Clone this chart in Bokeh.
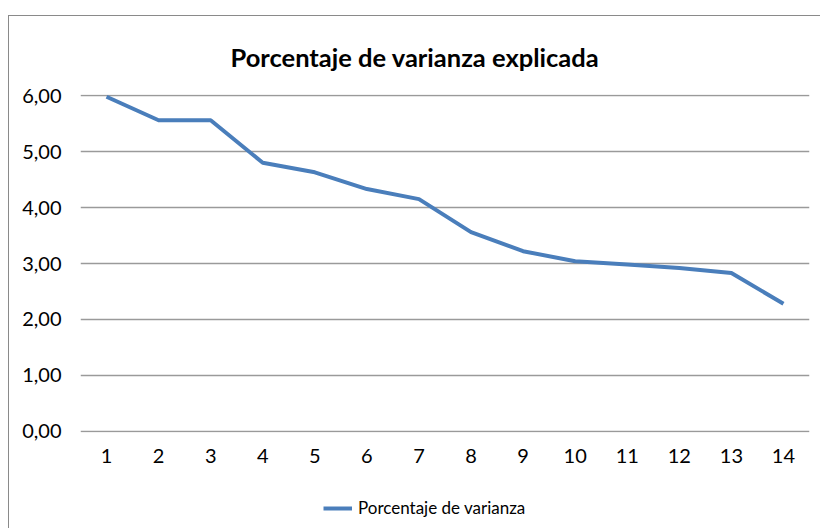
from bokeh.plotting import figure
from bokeh.layouts import column, row
from bokeh.models import (FactorRange, Range1d, CustomJSTickFormatter, FixedTicker,
                          Legend, LegendItem, ColumnDataSource, Spacer)
from bokeh.embed import file_html
from bokeh.resources import INLINE

categories = [str(i) for i in range(1, 15)]
values = [5.98, 5.56, 5.56, 4.80, 4.63, 4.33, 4.15, 3.56, 3.22, 3.04, 2.98, 2.92, 2.83, 2.28]
y_ticks = [0, 1, 2, 3, 4, 5, 6]
title_text = "Porcentaje de varianza explicada"
series_name = "Porcentaje de varianza"

FONT = "Lato"
GRID = "#9a9a9a"
LINE = "#4A7EBB"
BORDER = "1px solid #8a8a8a"

p = figure(
    x_range=FactorRange(factors=categories),
    y_range=Range1d(-0.02, 6.02),
    frame_width=728, frame_height=337,
    min_border_left=71, min_border_right=12,
    min_border_top=77, min_border_bottom=60,
    output_backend="svg", toolbar_location=None,
    background_fill_color="white", border_fill_color="white",
    title=title_text,
)
p.styles = {"border-top": BORDER, "border-left": BORDER}
p.outline_line_color = None

p.title.align = "left"
p.title.offset = 150
p.title.text_font = FONT
p.title.text_font_style = "bold"
p.title.text_font_size = "25.5px"
p.title.text_color = "black"
p.title.standoff = 46

src = ColumnDataSource(dict(x=categories, y=values))
p.line("x", "y", source=src, line_color=LINE, line_width=4, line_join="round")

# axes
p.yaxis.ticker = FixedTicker(ticks=y_ticks)
p.yaxis.formatter = CustomJSTickFormatter(code="return tick.toFixed(2).replace('.', ',');")
p.yaxis.axis_line_color = None
p.yaxis.major_tick_line_color = None
p.yaxis.minor_tick_line_color = None
p.yaxis.major_label_standoff = 13
p.yaxis.major_label_text_font = FONT
p.yaxis.major_label_text_font_size = "20px"
p.yaxis.major_label_text_color = "black"

p.xaxis.axis_line_color = None
p.xaxis.major_tick_line_color = None
p.xaxis.minor_tick_line_color = None
p.xaxis.major_label_standoff = 10
p.xaxis.major_label_text_font = FONT
p.xaxis.major_label_text_font_size = "20px"
p.xaxis.major_label_text_color = "black"

p.xgrid.grid_line_color = None
p.ygrid.grid_line_color = GRID
p.ygrid.grid_line_width = 1.5

# legend strip (separate small canvas sharing the chart border)
lg = figure(
    x_range=Range1d(0, 1), y_range=Range1d(0, 1),
    frame_width=812, frame_height=37,
    min_border_left=0, min_border_right=0, min_border_top=0, min_border_bottom=0,
    output_backend="svg", toolbar_location=None,
    background_fill_color="white", border_fill_color="white",
)
lg.styles = {"border-left": BORDER}
lg.outline_line_color = None
lg.xaxis.visible = False
lg.yaxis.visible = False
lg.xgrid.visible = False
lg.ygrid.visible = False
# proxy renderer for the legend swatch (its points lie outside this strip's view)
lr = lg.line(x=values, y=values, line_color=LINE, line_width=4)

legend = Legend(items=[LegendItem(label=series_name, renderers=[lr])],
                location=(314, 10), orientation="horizontal",
                glyph_width=29, glyph_height=20, label_standoff=6,
                padding=0, margin=0, border_line_color=None,
                background_fill_alpha=0,
                label_text_font=FONT, label_text_font_size="17px",
                label_text_color="black")
lg.add_layout(legend)

layout = column(Spacer(height=15, width=821),
                row(Spacer(width=8, height=475), p, spacing=0),
                row(Spacer(width=8, height=37), lg, spacing=0),
                spacing=0)
open("out.html", "w").write(file_html(layout, INLINE))
